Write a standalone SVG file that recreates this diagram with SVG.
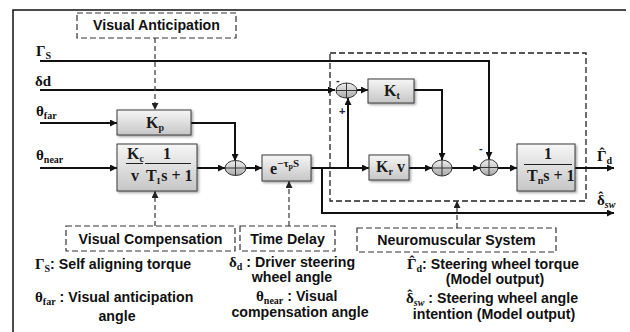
<svg xmlns="http://www.w3.org/2000/svg" width="630" height="332" viewBox="0 0 630 332">
<defs>
<linearGradient id="gb" x1="0" y1="0" x2="0" y2="1"><stop offset="0" stop-color="#f6f6f6"/><stop offset="1" stop-color="#c6c6c6"/></linearGradient>
<linearGradient id="gs" x1="0" y1="0" x2="0" y2="1"><stop offset="0" stop-color="#eeeeee"/><stop offset="1" stop-color="#a9a9a9"/></linearGradient>
<filter id="sh" x="-20%" y="-20%" width="140%" height="140%"><feDropShadow dx="1.5" dy="1.5" stdDeviation="1" flood-color="#000" flood-opacity="0.35"/></filter>
<marker id="ah" viewBox="0 0 10 10" refX="10" refY="5" markerWidth="8" markerHeight="7" markerUnits="userSpaceOnUse" orient="auto"><path d="M0,0 L10,5 L0,10 z" fill="#111"/></marker>
<marker id="ad" viewBox="0 0 10 10" refX="10" refY="5" markerWidth="7" markerHeight="7" markerUnits="userSpaceOnUse" orient="auto"><path d="M0,0 L10,5 L0,10 z" fill="#222"/></marker>
<style>
.box{fill:url(#gb);stroke:#3a3a3a;stroke-width:1;filter:url(#sh)}
.sum{fill:url(#gs);stroke:#333;stroke-width:1}
.cr{stroke:#333;stroke-width:1;fill:none}
.dbox{fill:#fff;stroke:#333;stroke-width:1.2;stroke-dasharray:6 3}
.nm{fill:none;stroke:#222;stroke-width:1.3;stroke-dasharray:6 3}
.w{fill:none;stroke:#111;stroke-width:2;marker-end:url(#ah)}
.da{fill:none;stroke:#444;stroke-width:1.3;stroke-dasharray:5 3;marker-end:url(#ad)}
.fr{fill:none;stroke:#111;stroke-width:1.5}
.fl{stroke:#222;stroke-width:1}
.m{font-family:"Liberation Serif","DejaVu Serif",serif;font-weight:bold;font-size:16px;fill:#1a1a1a}
.lb{font-family:"Liberation Serif","DejaVu Serif",serif;font-weight:bold;font-size:15px;fill:#111}
.s{font-family:"Liberation Sans",Arial,sans-serif;font-weight:bold;font-size:14.2px;fill:#111}
.sr{font-family:"Liberation Serif","DejaVu Serif",serif;font-weight:bold}
.sg{font-family:"Liberation Sans",Arial,sans-serif;font-size:11px;fill:#224;font-weight:bold}
</style>
</defs>
<rect width="630" height="332" fill="#fff"/>
<path class="fr" d="M13,332 V10 H626"/>

<g id="neuromuscular-region"><rect class="nm" x="330" y="53" width="256" height="148"/></g>

<g id="connectors">
<path class="w" d="M40,61 H489 V159"/>
<path class="w" d="M40,90 H335"/>
<path class="w" d="M357,90 H368"/>
<path class="w" d="M414,90 H442 V160"/>
<path class="w" d="M40,123 H117"/>
<path class="w" d="M191,123 H235 V161"/>
<path class="w" d="M40,168 H117"/>
<path class="w" d="M197,168 H225"/>
<path class="w" d="M246,168 H262"/>
<path class="w" d="M311,168 H369"/>
<path class="w" d="M348,168 V98"/>
<path class="w" d="M322,168 V213 H614"/>
<path class="w" d="M409,168 H432"/>
<path class="w" d="M452,168 H480"/>
<path class="w" d="M498,168 H517"/>
<path class="w" d="M575,168 H614"/>
<path class="da" d="M155,38 V110"/>
<path class="da" d="M155,226 V191"/>
<path class="da" d="M289,226 V181"/>
<path class="da" d="M457,228 V201"/>
</g>

<g id="visual-anticipation"><rect class="dbox" x="77" y="13" width="159" height="25"/><text class="s" x="156.5" y="30" text-anchor="middle">Visual Anticipation</text></g>
<g id="visual-compensation"><rect class="dbox" x="66" y="226" width="169" height="25"/><text class="s" x="150.5" y="243.5" text-anchor="middle">Visual Compensation</text></g>
<g id="time-delay"><rect class="dbox" x="240" y="226" width="95" height="25"/><text class="s" x="287.5" y="243.5" text-anchor="middle">Time Delay</text></g>
<g id="neuromuscular-system"><rect class="dbox" x="357" y="228" width="199" height="24"/><text class="s" x="456.5" y="245" text-anchor="middle">Neuromuscular System</text></g>

<g id="kp"><rect class="box" x="117" y="110" width="74" height="25"/><text class="m" x="146" y="128">K<tspan font-size="10" dy="3">p</tspan></text></g>
<g id="kc"><rect class="box" x="117" y="144" width="80" height="47"/>
<text class="m" x="127" y="159">K<tspan font-size="10" dy="3">c</tspan></text>
<line class="fl" x1="126" y1="163.5" x2="143" y2="163.5"/>
<text class="m" x="135" y="181" text-anchor="middle">v</text>
<text class="m" x="167" y="159" text-anchor="middle">1</text>
<line class="fl" x1="145" y1="163.5" x2="191" y2="163.5"/>
<text class="m" x="146" y="181">T<tspan font-size="9" dy="3">I</tspan><tspan dx="1" dy="-3">s + 1</tspan></text>
</g>
<g id="delay"><rect class="box" x="262" y="155" width="49" height="26"/><text class="m" x="270" y="174">e<tspan font-size="11" dy="-7">−τ</tspan><tspan font-size="8" dy="2">p</tspan><tspan font-size="11" dy="-2">S</tspan></text></g>
<g id="kt"><rect class="box" x="368" y="79" width="46" height="24"/><text class="m" x="384" y="96">K<tspan font-size="10" dy="3">t</tspan></text></g>
<g id="krv"><rect class="box" x="369" y="155" width="40" height="25"/><text class="m" x="376" y="172">K<tspan font-size="10" dy="3">r</tspan><tspan dy="-3"> v</tspan></text></g>
<g id="tn"><rect class="box" x="517" y="144" width="58" height="47"/>
<text class="m" x="548" y="159" text-anchor="middle">1</text>
<line class="fl" x1="524" y1="164.5" x2="572" y2="164.5"/>
<text class="m" x="527" y="181">T<tspan font-size="10" dy="3">n</tspan><tspan dy="-3">s + 1</tspan></text>
</g>

<g id="sum0"><ellipse class="sum" cx="235.5" cy="168" rx="10.5" ry="7.5"/><path class="cr" d="M225,168 H246 M235.5,160.5 V175.5"/></g>
<g id="sum1"><ellipse class="sum" cx="346.5" cy="90.5" rx="10.5" ry="7.5"/><path class="cr" d="M336,90.5 H357 M346.5,83 V98"/>
<text class="sg" x="336" y="84">-</text><text class="sg" x="339" y="115" fill="#2a4a8a">+</text></g>
<g id="sum3"><ellipse class="sum" cx="442" cy="168" rx="10" ry="8"/><path class="cr" d="M432,168 H452 M442,160 V176"/></g>
<g id="sum4"><ellipse class="sum" cx="489" cy="167.5" rx="9" ry="8"/><path class="cr" d="M480,167.5 H498 M489,159.5 V175.5"/>
<text class="sg" x="479" y="152">-</text></g>

<g id="labels">
<text class="lb" x="36" y="56">Γ<tspan font-size="10" dy="3">S</tspan></text>
<text class="lb" x="35" y="86">δd</text>
<text class="lb" x="36" y="116">θ<tspan font-size="10" dy="3">far</tspan></text>
<text class="lb" x="36" y="160">θ<tspan font-size="10" dy="3">near</tspan></text>
<text class="lb" x="597" y="161">Γ<tspan dx="-7" dy="-3">ˆ</tspan><tspan font-size="10" dx="2" dy="6">d</tspan></text>
<text class="lb" x="597" y="205">δ<tspan dx="-6.5" dy="-3">ˆ</tspan><tspan font-size="10" dx="1.5" dy="6" font-style="italic">sw</tspan></text>
</g>

<g id="legend">
<text class="s" x="35" y="269"><tspan class="sr" font-size="15">Γ</tspan><tspan class="sr" font-size="10" dy="3">S</tspan><tspan dy="-3">: Self aligning torque</tspan></text>
<text class="s" x="35" y="302"><tspan class="sr" font-size="15">θ</tspan><tspan class="sr" font-size="10" dy="3">far</tspan><tspan dy="-3"> : Visual anticipation</tspan></text>
<text class="s" x="117" y="321" text-anchor="middle">angle</text>
<text class="s" x="229" y="267"><tspan class="sr" font-size="15">δ</tspan><tspan class="sr" font-size="10" dy="3">d</tspan><tspan dy="-3"> : Driver steering</tspan></text>
<text class="s" x="292" y="282" text-anchor="middle">wheel angle</text>
<text class="s" x="256" y="301"><tspan class="sr" font-size="15">θ</tspan><tspan class="sr" font-size="10" dy="3">near</tspan><tspan dy="-3"> : Visual</tspan></text>
<text class="s" x="300" y="317" text-anchor="middle">compensation angle</text>
<text class="s" x="407" y="269"><tspan class="sr" font-size="15">Γ</tspan><tspan class="sr" font-size="15" dx="-7" dy="-3">ˆ</tspan><tspan class="sr" font-size="10" dx="2" dy="6">d</tspan><tspan dy="-3">: Steering wheel torque</tspan></text>
<text class="s" x="495" y="284" text-anchor="middle">(Model output)</text>
<text class="s" x="406" y="303"><tspan class="sr" font-size="15">δ</tspan><tspan class="sr" font-size="15" dx="-6.5" dy="-3">ˆ</tspan><tspan class="sr" font-size="10" dx="1.5" dy="6" font-style="italic">sw</tspan><tspan dy="-3"> : Steering wheel angle</tspan></text>
<text class="s" x="494" y="319" text-anchor="middle">intention (Model output)</text>
</g>
</svg>
